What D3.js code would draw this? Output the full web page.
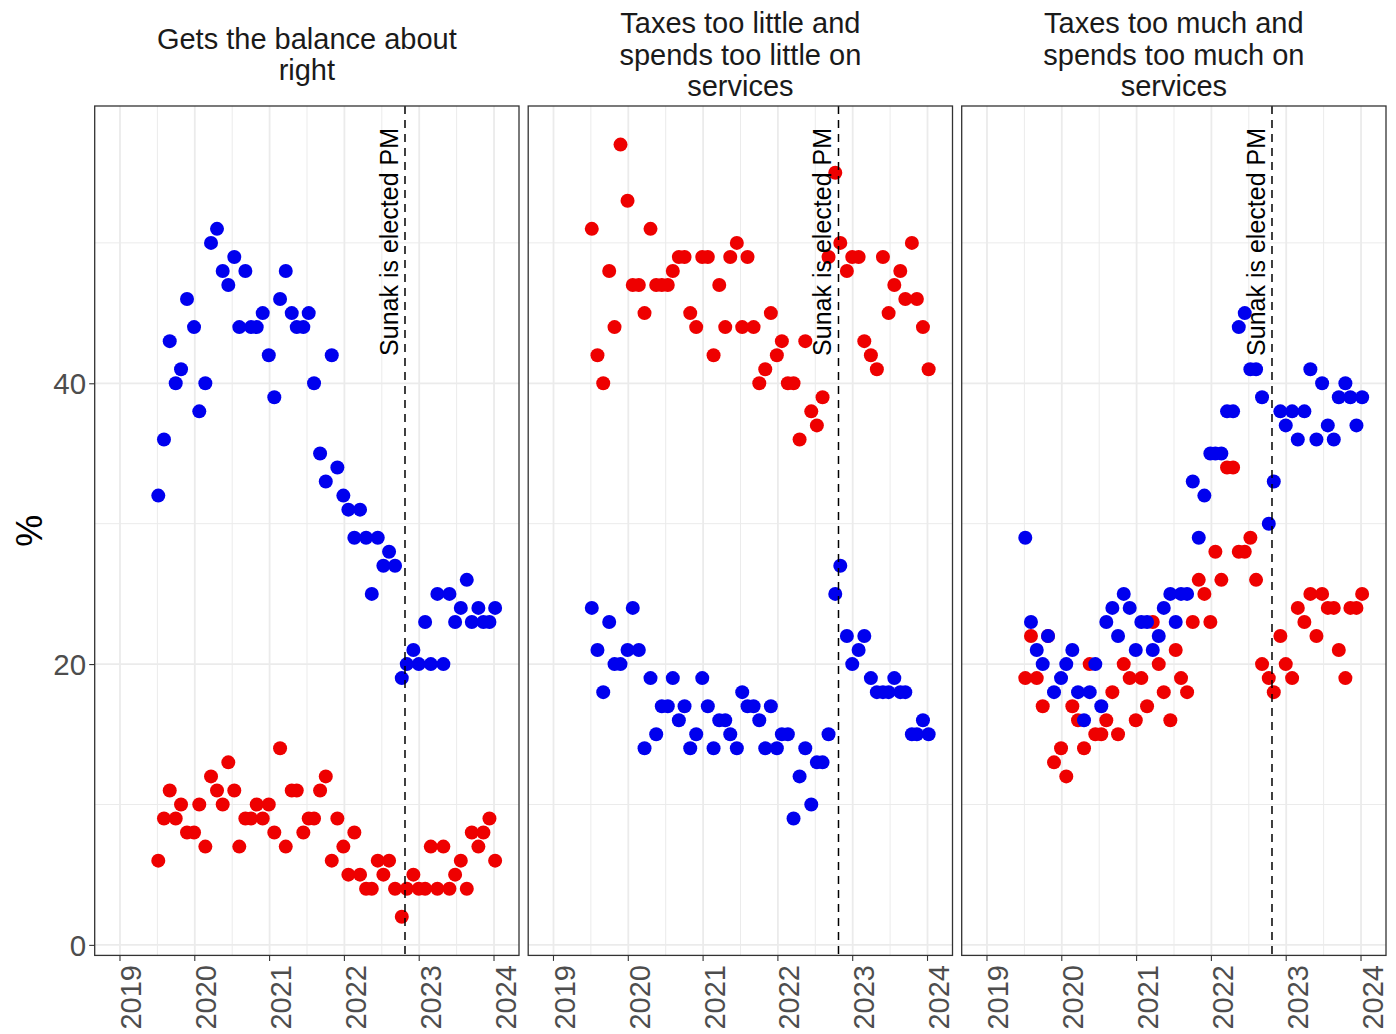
<!DOCTYPE html>
<html>
<head>
<meta charset="utf-8">
<script src="https://cdn.jsdelivr.net/npm/d3@7"></script>
<style>
  body { margin: 0; background: #fff; }
  svg text { font-family: "Liberation Sans", Arial, sans-serif; }
</style>
</head>
<body>
<svg id="chart" width="1396" height="1034"></svg>
<script>
//DATA (dates as decimal years, one survey wave per entry)
var dates = [2019.512, 2019.588, 2019.665, 2019.745, 2019.816, 2019.896, 2019.990, 2020.060, 2020.141, 2020.217,
  2020.297, 2020.373, 2020.448, 2020.528, 2020.595, 2020.676, 2020.752, 2020.828, 2020.908, 2020.989,
  2021.063, 2021.140, 2021.216, 2021.296, 2021.363, 2021.451, 2021.523, 2021.594, 2021.675, 2021.751,
  2021.831, 2021.906, 2021.986, 2022.053, 2022.133, 2022.209, 2022.290, 2022.366, 2022.446, 2022.521,
  2022.597, 2022.677, 2022.767, 2022.834, 2022.922, 2022.994, 2023.079, 2023.155, 2023.243, 2023.323,
  2023.404, 2023.480, 2023.556, 2023.636, 2023.703, 2023.791, 2023.858, 2023.939, 2024.015];

var panelTitles = [
  ["Gets the balance about", "right"],
  ["Taxes too little and", "spends too little on", "services"],
  ["Taxes too much and", "spends too much on", "services"]
];

//red series
var balanceRed = [6, 9, 11, 9, 10, 8, 8, 10, 7, 12, 11, 10, 13, 11, 7, 9, 9, 10, 9, 10,
  8, 14, 7, 11, 11, 8, 9, 9, 11, 12, 6, 9, 7, 5, 8, 5, 4, 4, 6, 5,
  6, 4, 2, 4, 5, 4, 4, 7, 4, 7, 4, 5, 6, 4, 8, 7, 8, 9, 6];
var tooLittleRed = [51, 42, 40, 48, 44, 57, 53, 47, 47, 45, 51, 47, 47, 47, 48, 49, 49, 45, 44, 49,
  49, 42, 47, 44, 49, 50, 44, 49, 44, 40, 41, 45, 42, 43, 40, 40, 36, 43, 38, 37,
  39, 49, 55, 50, 48, 49, 49, 43, 42, 41, 49, 45, 47, 48, 46, 50, 46, 44, 41];
var tooMuchRed = [19, 22, 19, 17, 22, 13, 14, 12, 17, 16, 14, 20, 15, 15, 16, 18, 15, 20, 19, 16,
  19, 17, 23, 20, 18, 16, 21, 19, 18, 23, 26, 25, 23, 28, 26, 34, 34, 28, 28, 29,
  26, 20, 19, 18, 22, 20, 19, 24, 23, 25, 22, 25, 24, 24, 21, 19, 24, 24, 25];

//blue series
var balanceBlue = [32, 36, 43, 40, 41, 46, 44, 38, 40, 50, 51, 48, 47, 49, 44, 48, 44, 44, 45, 42,
  39, 46, 48, 45, 44, 44, 45, 40, 35, 33, 42, 34, 32, 31, 29, 31, 29, 25, 29, 27,
  28, 27, 19, 20, 21, 20, 23, 20, 25, 20, 25, 23, 24, 26, 23, 24, 23, 23, 24];
var tooLittleBlue = [24, 21, 18, 23, 20, 20, 21, 24, 21, 14, 19, 15, 17, 17, 19, 16, 17, 14, 15, 19,
  17, 14, 16, 16, 15, 14, 18, 17, 17, 16, 14, 17, 14, 15, 15, 9, 12, 14, 10, 13,
  13, 15, 25, 27, 22, 20, 21, 22, 19, 18, 18, 18, 19, 18, 18, 15, 15, 16, 15];
var tooMuchBlue = [29, 23, 21, 20, 22, 18, 19, 20, 21, 18, 16, 18, 20, 17, 23, 24, 22, 25, 24, 21,
  23, 23, 21, 22, 24, 25, 23, 25, 25, 33, 29, 32, 35, 35, 35, 38, 38, 44, 45, 41,
  41, 39, 30, 33, 38, 37, 38, 36, 38, 41, 36, 40, 37, 36, 39, 40, 39, 37, 39];

var sunakDate = 2022.81;
var sunakLabel = "Sunak is elected PM";
var yearTicks = [2019, 2020, 2021, 2022, 2023, 2024];
var yearMinor = [2019.5, 2020.5, 2021.5, 2022.5, 2023.5];
var valueTicks = [0, 20, 40];
var valueMinor = [10, 30, 50];

var redCol = "#EE0000";
var blueCol = "#0000EE";

//LAYOUT
var panelLeft = 94.7;
var panelW = 424.3;
var panelGap = 9.2;
var panelTop = 106;
var panelBottom = 955.4;

var panels = [
  {title: panelTitles[0], red: balanceRed, blue: balanceBlue},
  {title: panelTitles[1], red: tooLittleRed, blue: tooLittleBlue},
  {title: panelTitles[2], red: tooMuchRed, blue: tooMuchBlue}
];

var svg = d3.select("#chart");

let x = d3.scaleLinear().domain([2018.662, 2024.334]).range([0, panelW]);
let y = d3.scaleLinear().domain([-0.75, 59.75]).range([panelBottom, panelTop]);

let axisColor = "#4D4D4D";

//y axis label + ticks (only on the first panel)
svg.append("text")
  .attr("transform", "translate(42," + ((panelTop + panelBottom) / 2) + ") rotate(-90)")
  .attr("text-anchor", "middle")
  .style("font-size", "36px")
  .style("fill", "#000")
  .text("%");

let yAxis = svg.append("g").attr("transform", "translate(" + panelLeft + ",0)")
  .call(d3.axisLeft(y).tickValues(valueTicks).tickSize(5.5).tickPadding(3));
yAxis.select(".domain").remove();
yAxis.selectAll(".tick line").attr("stroke", "#333").attr("stroke-width", 1.1);
yAxis.selectAll(".tick text")
  .style("font-size", "29.5px")
  .style("fill", axisColor)
  .attr("dy", "0.36em");

panels.forEach(function(p, i) {
  let left = panelLeft + i * (panelW + panelGap);
  let g = svg.append("g").attr("transform", "translate(" + left + ",0)");

  //strip title, lines centred on the strip
  let lineH = 31.5;
  let firstBase = 64.5 - (p.title.length - 1) * lineH / 2;
  g.append("text")
    .attr("text-anchor", "middle")
    .style("font-size", "29px")
    .style("fill", "#1A1A1A")
    .selectAll("tspan").data(p.title).enter().append("tspan")
      .attr("x", panelW / 2)
      .attr("y", (d, j) => firstBase + j * lineH)
      .text(d => d);

  //grid
  g.selectAll("line.vminor").data(yearMinor).enter().append("line")
    .attr("x1", d => x(d)).attr("x2", d => x(d))
    .attr("y1", panelTop).attr("y2", panelBottom)
    .attr("stroke", "#EBEBEB").attr("stroke-width", 1);
  g.selectAll("line.hminor").data(valueMinor).enter().append("line")
    .attr("x1", 0).attr("x2", panelW)
    .attr("y1", d => y(d)).attr("y2", d => y(d))
    .attr("stroke", "#EBEBEB").attr("stroke-width", 1);
  g.selectAll("line.vmajor").data(yearTicks).enter().append("line")
    .attr("x1", d => x(d)).attr("x2", d => x(d))
    .attr("y1", panelTop).attr("y2", panelBottom)
    .attr("stroke", "#EBEBEB").attr("stroke-width", 1.8);
  g.selectAll("line.hmajor").data(valueTicks).enter().append("line")
    .attr("x1", 0).attr("x2", panelW)
    .attr("y1", d => y(d)).attr("y2", d => y(d))
    .attr("stroke", "#EBEBEB").attr("stroke-width", 1.8);

  //points: red first, blue on top
  g.append("g").selectAll("circle").data(p.red).enter().append("circle")
    .attr("cx", (d, j) => x(dates[j]))
    .attr("cy", d => y(d))
    .attr("r", 7)
    .style("fill", redCol);
  g.append("g").selectAll("circle").data(p.blue).enter().append("circle")
    .attr("cx", (d, j) => x(dates[j]))
    .attr("cy", d => y(d))
    .attr("r", 7)
    .style("fill", blueCol);

  //Sunak line + label
  g.append("line")
    .attr("x1", x(sunakDate)).attr("x2", x(sunakDate))
    .attr("y1", panelTop).attr("y2", panelBottom)
    .attr("stroke", "#000").attr("stroke-width", 1.5)
    .attr("stroke-dasharray", "8,6");
  g.append("text")
    .attr("transform", "translate(" + (x(sunakDate) - 7) + ",128) rotate(-90)")
    .attr("text-anchor", "end")
    .style("font-size", "25px")
    .style("fill", "#000")
    .text(sunakLabel);

  //border
  g.append("rect")
    .attr("x", 0).attr("y", panelTop)
    .attr("width", panelW).attr("height", panelBottom - panelTop)
    .attr("fill", "none").attr("stroke", "#333").attr("stroke-width", 1.3);

  //x axis: ticks + rotated year labels
  g.selectAll("line.xtick").data(yearTicks).enter().append("line")
    .attr("x1", d => x(d)).attr("x2", d => x(d))
    .attr("y1", panelBottom).attr("y2", panelBottom + 5.5)
    .attr("stroke", "#333").attr("stroke-width", 1.1);
  g.selectAll("text.year").data(yearTicks).enter().append("text")
    .attr("transform", d => "translate(" + x(d) + ",965) rotate(-90)")
    .attr("text-anchor", "end")
    .attr("y", 21.5)
    .style("font-size", "29px")
    .style("fill", axisColor)
    .text(d => d);
});
</script>
</body>
</html>
